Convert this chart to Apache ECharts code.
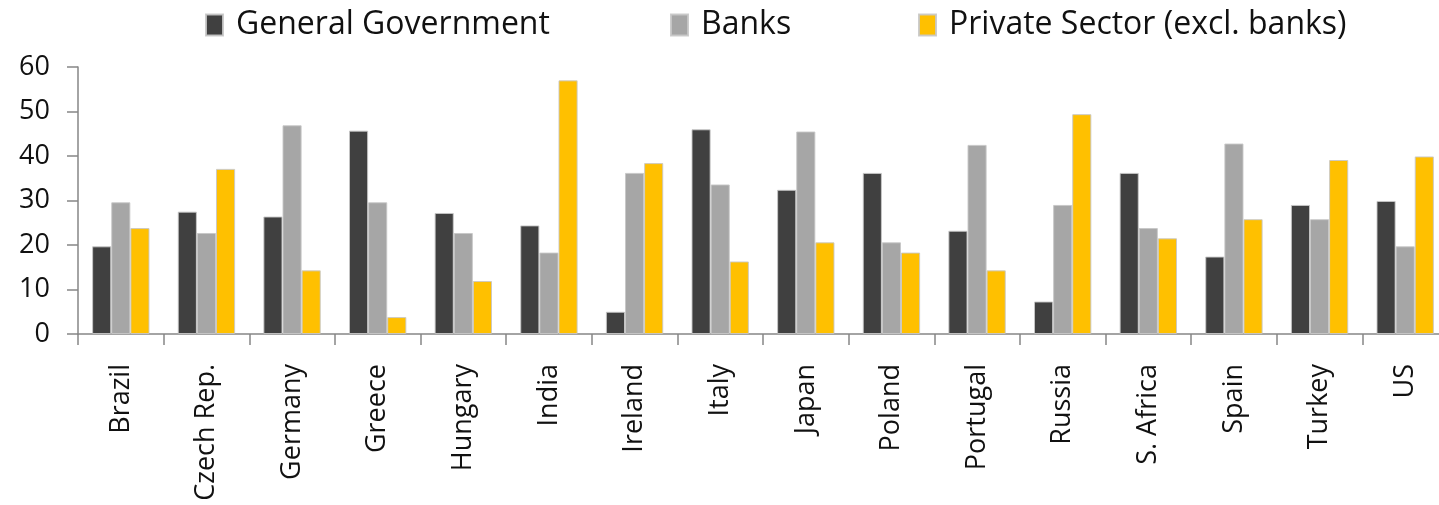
<!DOCTYPE html>
<html>
<head>
<meta charset="utf-8">
<script src="https://cdn.jsdelivr.net/npm/echarts@6/dist/echarts.min.js"></script>
<style>
html,body{margin:0;padding:0;background:#fff;overflow:hidden;width:1439px;height:505px;}
#chart{width:1450px;height:505px;}
</style>
</head>
<body>
<div id="chart"></div>
<script>
const categories = ["Brazil","Czech Rep.","Germany","Greece","Hungary","India","Ireland","Italy","Japan","Poland","Portugal","Russia","S. Africa","Spain","Turkey","US"];
const generalGovernment = [19.7,27.5,26.4,45.7,27.2,24.4,5.0,46.0,32.4,36.2,23.2,7.3,36.2,17.4,29.0,29.9];
const banks = [29.6,22.7,46.9,29.6,22.7,18.3,36.2,33.6,45.5,20.6,42.5,29.0,23.8,42.8,25.8,19.7];
const privateSector = [23.8,37.1,14.3,3.8,11.9,57.0,38.4,16.3,20.6,18.3,14.3,49.4,21.5,25.8,39.1,39.9];
const seriesNames = ["General Government","Banks","Private Sector (excl. banks)"];
const yTicks = [0,10,20,30,40,50,60];

const colors = ["#404040","#A6A6A6","#FFC000"];
const font = "Open Sans";
const legendLeft = [200, 665, 913];

const chart = echarts.init(document.getElementById('chart'), null, {renderer:'canvas'});
const mk = (name, data, i) => ({
  name, type:'bar', data,
  barGap:'0%', barCategoryGap:'33%',
  itemStyle:{color:colors[i], borderColor:'rgba(200,200,200,0.9)', borderWidth:1},
  emphasis:{disabled:true}
});
chart.setOption({
  animation:false,
  textStyle:{fontFamily:font},
  legend: seriesNames.map((n, i) => ({
    top:4, left:legendLeft[i],
    itemWidth:17, itemHeight:21, itemGap:0,
    icon:'rect',
    textStyle:{fontFamily:font, fontSize:32, color:'#111', padding:[0,0,0,8]},
    data:[n]
  })),
  grid:{left:78, top:67, right:2, bottom:171, containLabel:false},
  xAxis:{
    type:'category', data:categories,
    axisLine:{lineStyle:{color:'#868686', width:1.5}},
    axisTick:{show:true, length:11, alignWithLabel:false, lineStyle:{color:'#868686', width:1.5}},
    axisLabel:{rotate:90, margin:30, fontSize:27, color:'#111', fontFamily:font, interval:0}
  },
  yAxis:{
    type:'value', min:yTicks[0], max:yTicks[yTicks.length-1], interval:10,
    splitLine:{show:false},
    axisLine:{show:true, lineStyle:{color:'#868686', width:1.5}},
    axisTick:{show:true, length:11, lineStyle:{color:'#868686', width:1.5}},
    axisLabel:{margin:28, fontSize:27, color:'#111', fontFamily:font}
  },
  series:[mk(seriesNames[0], generalGovernment, 0), mk(seriesNames[1], banks, 1), mk(seriesNames[2], privateSector, 2)]
});
</script>
</body>
</html>
